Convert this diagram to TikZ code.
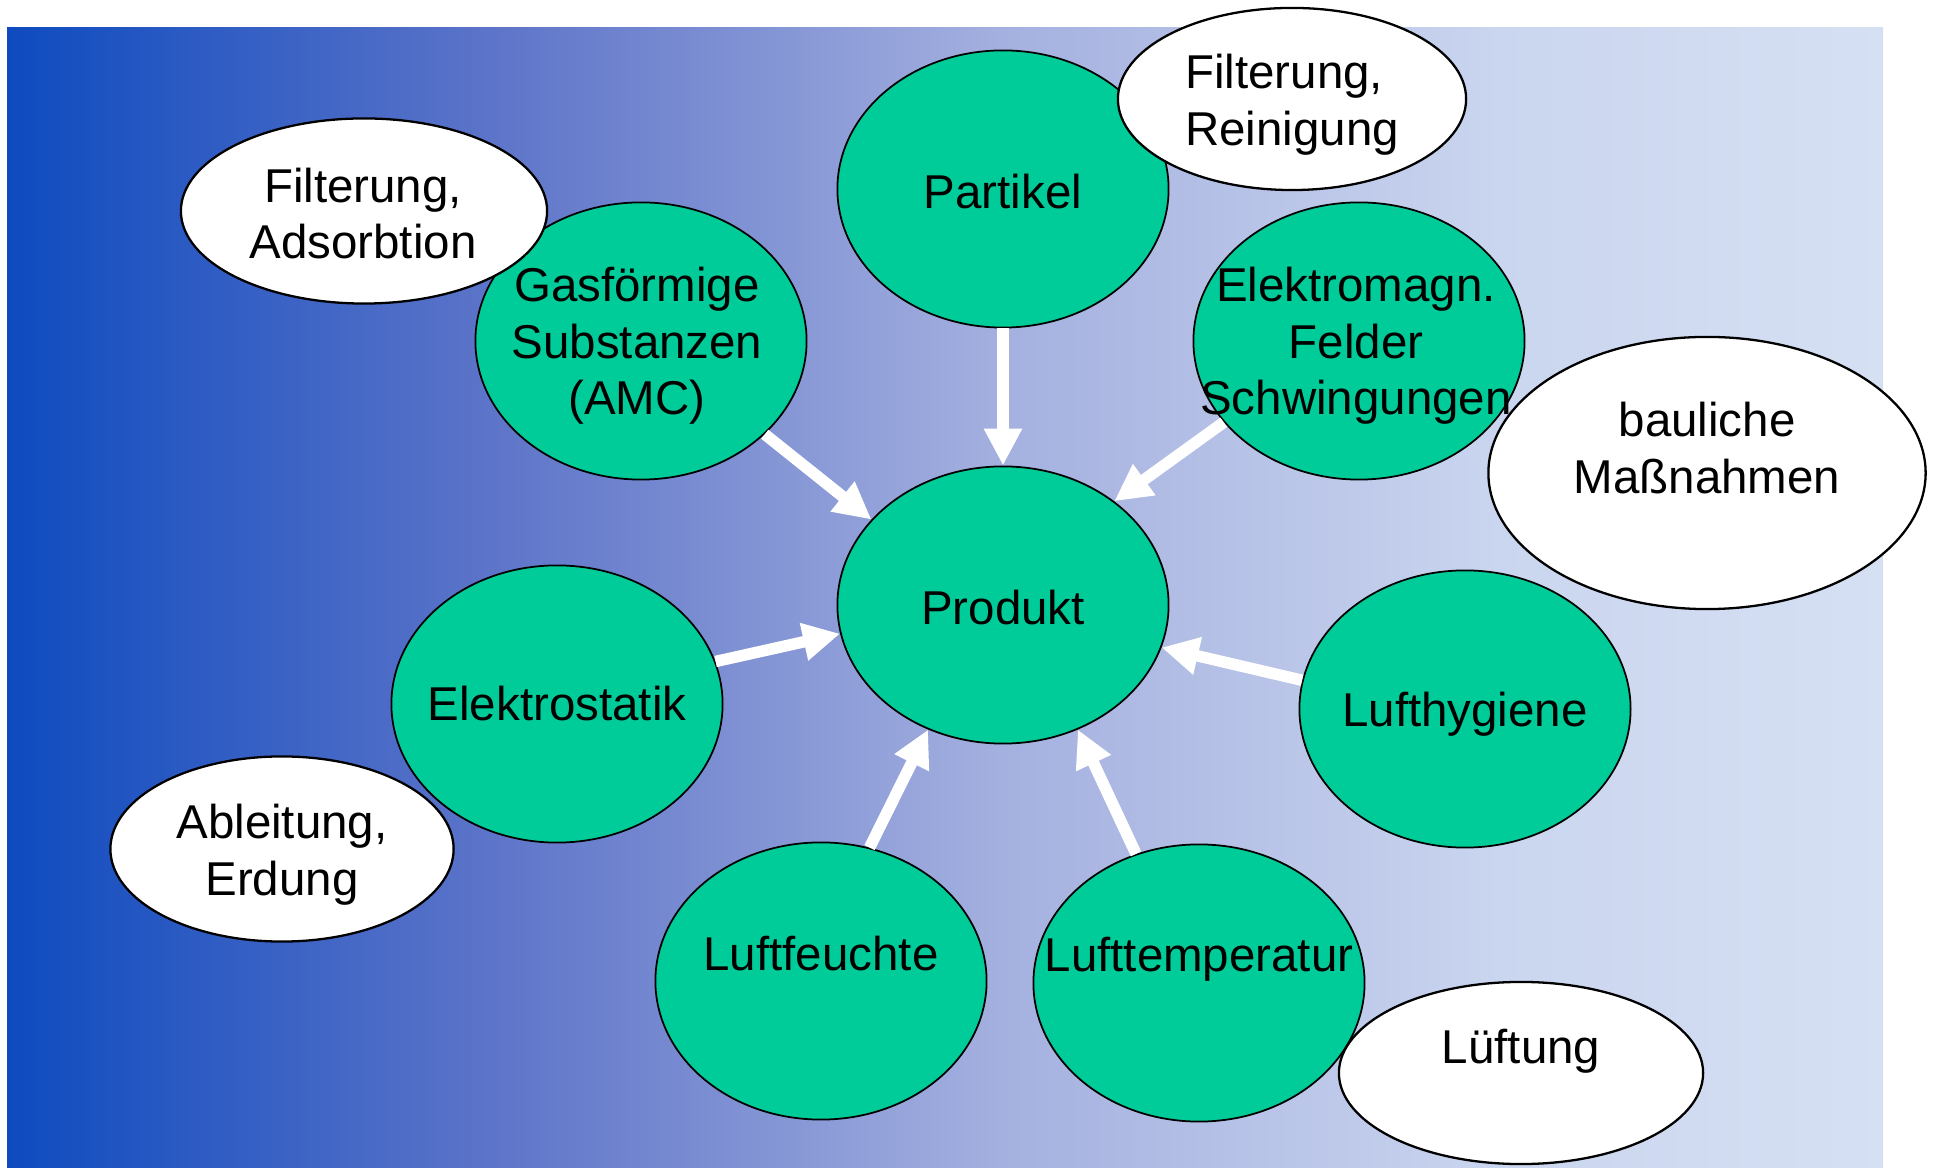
\documentclass[tikz,border=0pt]{standalone}
\usepackage{fontspec}
\setmainfont{Liberation Sans}
\usetikzlibrary{shapes.geometric,arrows.meta}

\definecolor{bgA}{HTML}{0E4BBF}
\definecolor{bgB}{HTML}{5E75C9}
\definecolor{bgC}{HTML}{A4B0DF}
\definecolor{bgD}{HTML}{CAD5EF}
\definecolor{bgE}{HTML}{D6E0F3}
\definecolor{factorgreen}{HTML}{00CC99}

% left-to-right backdrop: deep blue fading into pale lavender
\pgfdeclarehorizontalshading{backdrop}{100bp}{%
  color(0bp)=(bgA); color(25bp)=(bgA); color(38.15bp)=(bgB);
  color(51.5bp)=(bgC); color(64.8bp)=(bgD); color(75bp)=(bgE);
  color(100bp)=(bgE)}

\tikzset{
  factor/.style={ellipse, draw=black, line width=0.5pt, fill=factorgreen,
    minimum width=3.31cm, minimum height=2.77cm, inner sep=0pt},
  remedy/.style={ellipse, draw=black, line width=0.65pt, fill=white, inner sep=0pt},
  txt/.style={font=\fontsize{13.5}{16.1}\selectfont, align=center,
    inner sep=0pt, text=black},
  flow/.style={draw=white, line width=0.115cm,
    -{Triangle[width=0.36cm,length=0.37cm]}},
}

\begin{document}
\begin{tikzpicture}[x=0.01cm,y=-0.01cm]
  \useasboundingbox (0,0) rectangle (1937,1168);

  % background panel
  \path[shading=backdrop] (7,28) rectangle (1883,1168);

  % influencing factors around the product
  \node[factor] (prod)  at (1003,605) {};
  \node[factor] (part)  at (1003,189) {};
  \node[factor] (gas)   at (641,341)  {};
  \node[factor] (emag)  at (1359,341) {};
  \node[factor] (estat) at (557,704)  {};
  \node[factor] (hyg)   at (1465,709) {};
  \node[factor] (feu)   at (821,981)  {};
  \node[factor] (temp)  at (1199,983) {};

  % arrows pointing at the product
  \draw[flow] (part.south)  -- (prod.north);
  \draw[flow] (gas.-37)     -- (prod.147.5);
  \draw[flow] (emag.-149)   -- (prod.43);
  \draw[flow] (estat.15)    -- (prod.-170);
  \draw[flow] (hyg.170)     -- (prod.-15.6);
  \draw[flow] (feu.70)      -- (prod.-121.5);
  \draw[flow] (temp.116.4)  -- (prod.-59);

  % countermeasures
  \node[remedy, minimum width=3.48cm, minimum height=1.82cm] (fr) at (1292,99)  {};
  \node[remedy, minimum width=3.66cm, minimum height=1.85cm] (fa) at (364,211)  {};
  \node[remedy, minimum width=4.37cm, minimum height=2.72cm] (bm) at (1707,473) {};
  \node[remedy, minimum width=3.43cm, minimum height=1.85cm] (ae) at (282,849)  {};
  \node[remedy, minimum width=3.64cm, minimum height=1.82cm] (lu) at (1521,1073) {};

  % labels
  \node[txt] (tprod)  at ([yshift=-0.025cm]prod.center) {Produkt};
  \node[txt] (tpart)  at ([yshift=-0.025cm]part.center) {Partikel};
  \node[txt] (tgas)   at ([xshift=-0.04cm,yshift=-0.05cm]gas.center) {Gasförmige\\Substanzen\\(AMC)};
  \node[txt] (temag)  at ([xshift=-0.03cm,yshift=-0.05cm]emag.center) {Elektromagn.\\Felder\\Schwingungen};
  \node[txt] (testat) at (estat) {Elektrostatik};
  \node[txt] (thyg)   at ([yshift=-0.05cm]hyg.center) {Lufthygiene};
  \node[txt] (tfeu)   at ([yshift=0.27cm]feu.center)  {Luftfeuchte};
  \node[txt] (ttemp)  at ([yshift=0.235cm]temp.center) {Lufttemperatur};

  \node[txt, align=left] (tfr) at ([yshift=-0.06cm]fr.center) {Filterung,\\Reinigung};
  \node[txt] (tfa) at ([xshift=-0.01cm,yshift=-0.025cm]fa.center) {Filterung,\\Adsorbtion};
  \node[txt] (tbm) at ([yshift=0.25cm]bm.center) {bauliche\\Maßnahmen};
  \node[txt] (tae) at ([yshift=-0.06cm]ae.center) {Ableitung,\\Erdung};
  \node[txt] (tlu) at ([yshift=0.22cm]lu.center) {Lüftung};
\end{tikzpicture}
\end{document}
